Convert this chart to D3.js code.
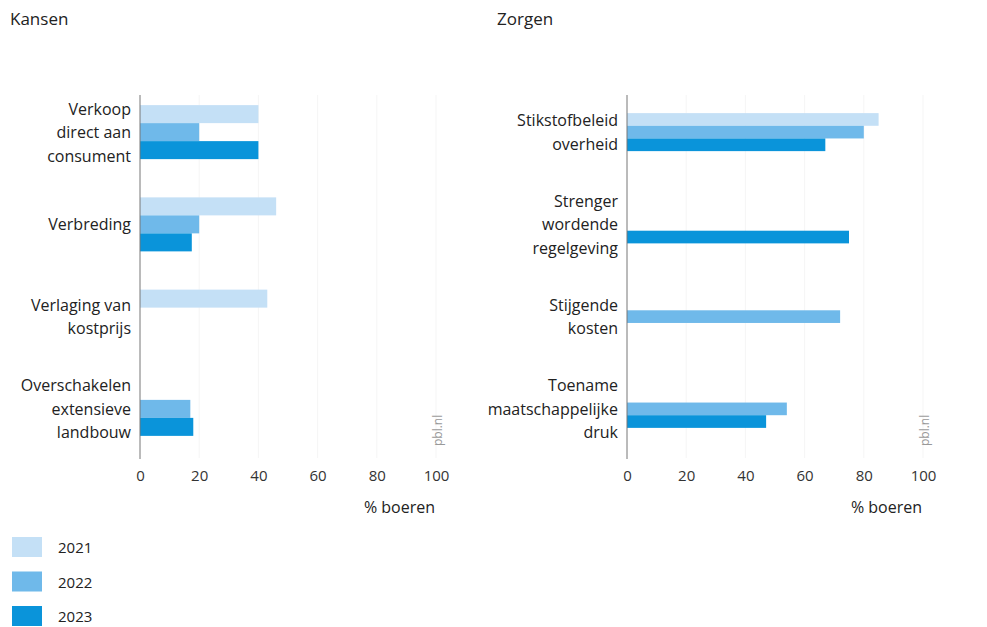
<!DOCTYPE html>
<html>
<head>
<meta charset="utf-8">
<script src="https://cdn.jsdelivr.net/npm/d3@7"></script>
<style>
  html, body { margin: 0; padding: 0; background: #fff; }
  svg { display: block; font-family: "Open Sans", sans-serif; }
</style>
</head>
<body>
<svg id="chart" width="987" height="627"></svg>
<script>
// ---- Data ----
const years = ["2021", "2022", "2023"];

const kansenCategories = [
  ["Verkoop", "direct aan", "consument"],
  ["Verbreding"],
  ["Verlaging van", "kostprijs"],
  ["Overschakelen", "extensieve", "landbouw"]
];
const kansen2021 = [40, 46, 43, null];
const kansen2022 = [20, 20, null, 17];
const kansen2023 = [40, 17.5, null, 18];

const zorgenCategories = [
  ["Stikstofbeleid", "overheid"],
  ["Strenger", "wordende", "regelgeving"],
  ["Stijgende", "kosten"],
  ["Toename", "maatschappelijke", "druk"]
];
const zorgen2021 = [85, null, null, null];
const zorgen2022 = [80, null, 72, 54];
const zorgen2023 = [67, 75, null, 47];

const xTicks = [0, 20, 40, 60, 80, 100];
const colors = { "2021": "#c4e0f6", "2022": "#6fb9ea", "2023": "#0a94da" };

// ---- Drawing ----
const svg = d3.select("#chart");

function panel(opts) {
  const { title, titleX, x0, x1, cats, series, groupH, labelX } = opts;
  const g = svg.append("g");

  g.append("text").attr("x", titleX).attr("y", 25)
    .attr("font-size", 17).attr("fill", "#222").text(title);

  const x = d3.scaleLinear().domain([0, 100]).range([x0, x1]);
  const keys = cats.map((c, i) => i);
  const y = d3.scaleBand().domain(keys).range([86, 455]).padding(0);
  const y1 = d3.scaleBand().domain(years).range([0, groupH]);

  // gridlines
  g.append("g").selectAll("line").data(xTicks.slice(1)).join("line")
    .attr("x1", d => x(d)).attr("x2", d => x(d))
    .attr("y1", 95).attr("y2", 458)
    .attr("stroke", "#f5f5f5").attr("stroke-width", 1);

  // bars
  years.forEach((yr, si) => {
    const vals = series[si];
    g.append("g").selectAll("rect")
      .data(vals.map((v, i) => ({ v, i })).filter(d => d.v != null))
      .join("rect")
      .attr("x", x(0))
      .attr("y", d => y(d.i) + y.bandwidth() / 2 - groupH / 2 + y1(yr))
      .attr("width", d => x(d.v) - x(0))
      .attr("height", y1.bandwidth())
      .attr("fill", colors[yr]);
  });

  // vertical axis line
  const yAxis = d3.axisLeft(y).tickSize(0).tickFormat("");
  const ya = g.append("g").attr("transform", `translate(${x0},0)`).call(yAxis);
  ya.select(".domain").attr("stroke", "#777").attr("d", `M0,95V459`);

  // category labels
  const lineH = 23.5;
  cats.forEach((lines, i) => {
    const cy = y(i) + y.bandwidth() / 2;
    const t = g.append("text").attr("text-anchor", "end")
      .attr("font-size", 16).attr("fill", "#222");
    lines.forEach((ln, j) => {
      t.append("tspan").attr("x", labelX)
        .attr("y", cy + (j - (lines.length - 1) / 2) * lineH + 6)
        .text(ln);
    });
  });

  // x axis
  const xAxis = d3.axisBottom(x).tickValues(xTicks).tickSize(0).tickPadding(0);
  const xa = g.append("g").attr("transform", `translate(0,470)`).call(xAxis);
  xa.select(".domain").remove();
  xa.selectAll("text").attr("font-size", 15).attr("fill", "#333")
    .attr("font-family", "Open Sans, sans-serif");

  g.append("text").attr("x", x(100) - 1).attr("y", 513).attr("text-anchor", "end")
    .attr("font-size", 16).attr("fill", "#222").text("% boeren");

  g.append("text")
    .attr("transform", `translate(${x(100) + 6},${446}) rotate(-90)`)
    .attr("font-size", 12).attr("fill", "#999").text("pbl.nl");
}

panel({
  title: "Kansen", titleX: 10, x0: 140, x1: 436,
  cats: kansenCategories, series: [kansen2021, kansen2022, kansen2023],
  groupH: 54, labelX: 131
});

panel({
  title: "Zorgen", titleX: 497, x0: 627, x1: 923,
  cats: zorgenCategories, series: [zorgen2021, zorgen2022, zorgen2023],
  groupH: 38, labelX: 618
});

// legend
const legend = svg.append("g");
years.forEach((yr, i) => {
  const yy = 537 + i * 34.5;
  legend.append("rect").attr("x", 12).attr("y", yy).attr("width", 30).attr("height", 20)
    .attr("fill", colors[yr]);
  legend.append("text").attr("x", 58).attr("y", yy + 16)
    .attr("font-size", 15).attr("fill", "#222").text(yr);
});
</script>
</body>
</html>
